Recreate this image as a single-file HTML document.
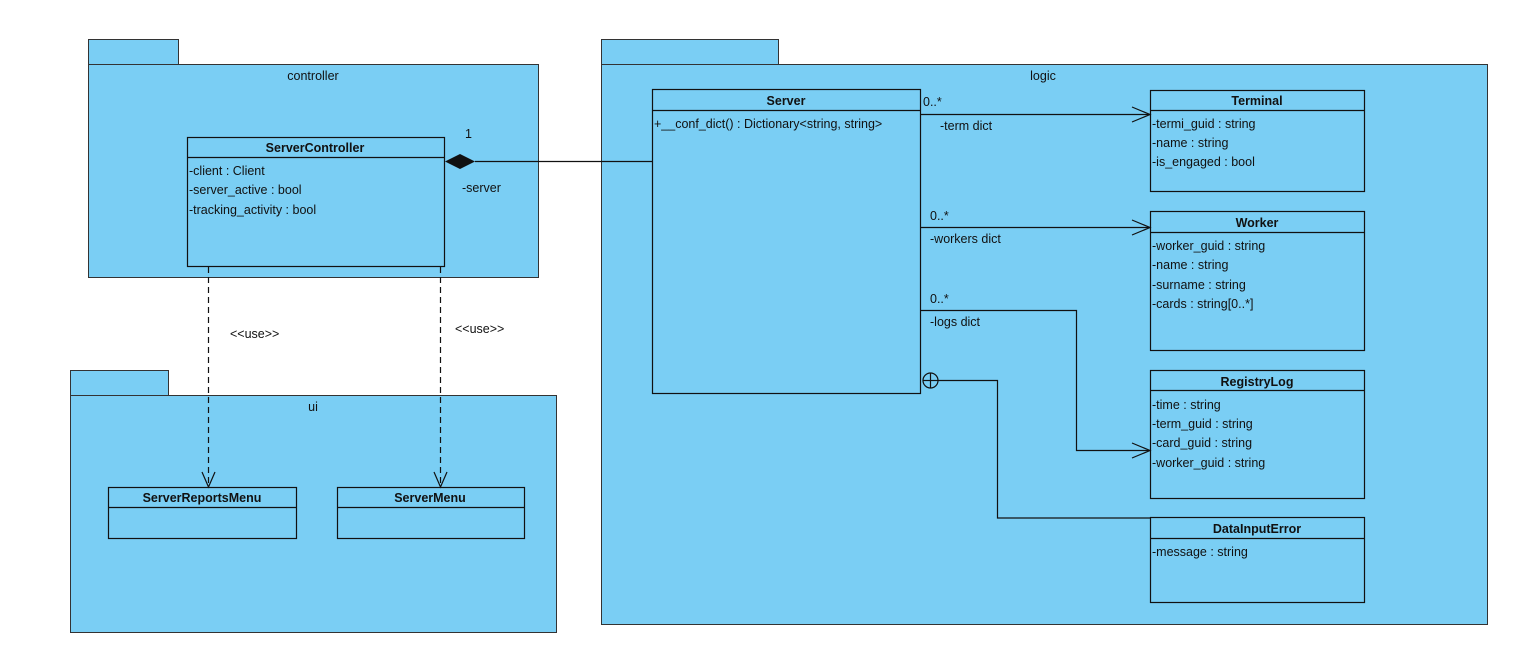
<!DOCTYPE html>
<html><head><meta charset="utf-8"><style>
html,body{margin:0;padding:0;background:#fff;}
svg text{font-family:"Liberation Sans",Arial,sans-serif;font-size:12.5px;fill:#111;}
.b{font-weight:bold;}
</style></head><body>
<svg width="1536" height="664" xmlns="http://www.w3.org/2000/svg">
<g fill="#7acef4" stroke="#333" stroke-width="1">
<!-- controller -->
<rect x="88.5" y="39.5" width="90" height="25"/>
<rect x="88.5" y="64.5" width="450" height="213"/>
<!-- ui -->
<rect x="70.5" y="370.5" width="98" height="25"/>
<rect x="70.5" y="395.5" width="486" height="237"/>
<!-- logic -->
<rect x="601.5" y="39.5" width="177" height="25"/>
<rect x="601.5" y="64.5" width="886" height="560"/>
</g>
<text x="313" y="80" text-anchor="middle">controller</text>
<text x="313" y="411" text-anchor="middle">ui</text>
<text x="1043" y="80" text-anchor="middle">logic</text>

<g fill="none" stroke="#111" stroke-width="1.2">
<!-- classes -->
<rect x="187.5" y="137.5" width="257" height="129"/><line x1="187" y1="157.5" x2="444" y2="157.5"/>
<rect x="652.5" y="89.5" width="268" height="304"/><line x1="652" y1="110.5" x2="920" y2="110.5"/>
<rect x="1150.5" y="90.5" width="214" height="101"/><line x1="1150" y1="110.5" x2="1364" y2="110.5"/>
<rect x="1150.5" y="211.5" width="214" height="139"/><line x1="1150" y1="232.5" x2="1364" y2="232.5"/>
<rect x="1150.5" y="370.5" width="214" height="128"/><line x1="1150" y1="390.5" x2="1364" y2="390.5"/>
<rect x="1150.5" y="517.5" width="214" height="85"/><line x1="1150" y1="538.5" x2="1364" y2="538.5"/>
<rect x="108.5" y="487.5" width="188" height="51"/><line x1="108" y1="507.5" x2="296" y2="507.5"/>
<rect x="337.5" y="487.5" width="187" height="51"/><line x1="337" y1="507.5" x2="524" y2="507.5"/>
<!-- connectors -->
<line x1="475" y1="161.5" x2="652" y2="161.5"/>
<line x1="921" y1="114.5" x2="1150" y2="114.5"/><polyline points="1132,107 1150,114.5 1132,122"/>
<line x1="921" y1="227.5" x2="1150" y2="227.5"/><polyline points="1132,220 1150,227.5 1132,235"/>
<polyline points="921,310.5 1076.5,310.5 1076.5,450.5 1150,450.5"/><polyline points="1132,443 1150,450.5 1132,458"/>
<circle cx="930.5" cy="380.5" r="7.5"/><line x1="923" y1="380.5" x2="938" y2="380.5"/><line x1="930.5" y1="373" x2="930.5" y2="388"/>
<polyline points="938,380.5 997.5,380.5 997.5,518 1150,518"/>
<line x1="208.5" y1="267" x2="208.5" y2="487" stroke-dasharray="6,4"/>
<polyline points="202,472 208.5,487 215,472"/>
<line x1="440.5" y1="267" x2="440.5" y2="487" stroke-dasharray="6,4"/>
<polyline points="434,472 440.5,487 447,472"/>
</g>
<polygon points="445,161.5 460,154 475,161.5 460,169" fill="#111"/>

<text x="315" y="152" text-anchor="middle" class="b">ServerController</text>
<text x="189" y="175">-client : Client</text>
<text x="189" y="194">-server_active : bool</text>
<text x="189" y="214">-tracking_activity : bool</text>
<text x="786" y="105" text-anchor="middle" class="b">Server</text>
<text x="654" y="128">+__conf_dict() : Dictionary&lt;string, string&gt;</text>
<text x="1257" y="105" text-anchor="middle" class="b">Terminal</text>
<text x="1152" y="128">-termi_guid : string</text>
<text x="1152" y="147">-name : string</text>
<text x="1152" y="166">-is_engaged : bool</text>
<text x="1257" y="227" text-anchor="middle" class="b">Worker</text>
<text x="1152" y="250">-worker_guid : string</text>
<text x="1152" y="269">-name : string</text>
<text x="1152" y="289">-surname : string</text>
<text x="1152" y="308">-cards : string[0..*]</text>
<text x="1257" y="386" text-anchor="middle" class="b">RegistryLog</text>
<text x="1152" y="409">-time : string</text>
<text x="1152" y="428">-term_guid : string</text>
<text x="1152" y="447">-card_guid : string</text>
<text x="1152" y="467">-worker_guid : string</text>
<text x="1257" y="533" text-anchor="middle" class="b">DataInputError</text>
<text x="1152" y="556">-message : string</text>
<text x="202" y="502" text-anchor="middle" class="b">ServerReportsMenu</text>
<text x="430" y="502" text-anchor="middle" class="b">ServerMenu</text>

<text x="465" y="138">1</text>
<text x="462" y="192">-server</text>
<text x="923" y="106">0..*</text>
<text x="940" y="130">-term  dict</text>
<text x="930" y="220">0..*</text>
<text x="930" y="243">-workers  dict</text>
<text x="930" y="303">0..*</text>
<text x="930" y="326">-logs  dict</text>
<text x="230" y="338">&lt;&lt;use&gt;&gt;</text>
<text x="455" y="333">&lt;&lt;use&gt;&gt;</text>
</svg>
</body></html>
